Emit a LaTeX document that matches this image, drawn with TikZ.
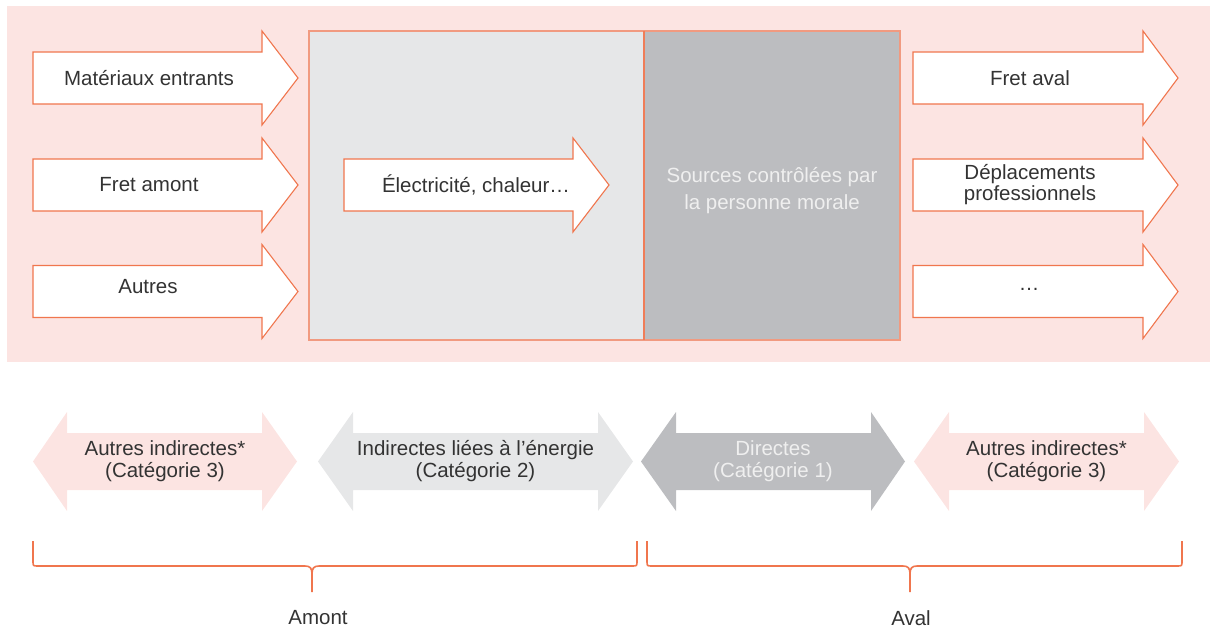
\documentclass[tikz,border=0pt]{standalone}
\usepackage{fontspec}
\setmainfont{Liberation Sans}
\definecolor{bgpink}{HTML}{FCE4E2}
\definecolor{lgrey}{HTML}{E6E7E8}
\definecolor{dgrey}{HTML}{BCBDC0}
\definecolor{orng}{HTML}{F0764E}
\definecolor{boxline}{HTML}{F19A80}
\definecolor{txt}{HTML}{333333}
\definecolor{wtxt}{HTML}{EFEFEF}
\newcommand{\rarr}[4]{%
  \draw[arrowbox] (#1,{#4-26}) -- (#2,{#4-26}) -- (#2,{#4-47}) -- (#3,#4) -- (#2,{#4+47}) -- (#2,{#4+26}) -- (#1,{#4+26}) -- cycle;}
\newcommand{\darr}[6]{%
  \fill[#6] (#1,#5) -- (#2,{#5-49.5}) -- (#2,{#5-28.5}) -- (#3,{#5-28.5}) -- (#3,{#5-49.5}) -- (#4,#5) -- (#3,{#5+49.5}) -- (#3,{#5+28.5}) -- (#2,{#5+28.5}) -- (#2,{#5+49.5}) -- cycle;}
\begin{document}
\begin{tikzpicture}[x=1pt,y=-1pt,
  arrowbox/.style={draw=orng, line width=1.1pt, fill=white, line join=miter},
  lbl/.style={text=txt, align=center, font=\fontsize{20.5}{22}\selectfont, inner sep=0pt},
  brace/.style={draw=orng, line width=1.6pt}]
\useasboundingbox (0,0) rectangle (1210,628);
\fill[bgpink] (7,6) rectangle (1210,362);
\draw[draw=boxline, line width=1.3pt, fill=lgrey] (309,31) rectangle (644,340);
\draw[draw=boxline, line width=1.3pt, fill=dgrey] (644,31) rectangle (900,340);
\draw[draw=orng!80!boxline, line width=1.5pt] (644,31) -- (644,340);
% single arrows
\rarr{33}{262}{298}{78}
\rarr{33}{262}{298}{185}
\rarr{33}{262}{298}{291.5}
\rarr{344}{573}{609}{185}
\rarr{913}{1143}{1178}{78}
\rarr{913}{1143}{1178}{185}
\rarr{913}{1143}{1178}{291.5}
\node[lbl] (mat) at (149,78) {Matériaux entrants};
\node[lbl] (fam) at (149,185) {Fret amont};
\node[lbl] (aut) at (148,287) {Autres};
\node[lbl] (elec) at (476,185) {Électricité, chaleur…};
\node[lbl, text=wtxt, font=\fontsize{20.5}{27}\selectfont] (src) at (772,191) {Sources contrôlées par\\la personne morale};
\node[lbl, font=\fontsize{20.5}{21}\selectfont] (fav) at (1030,78) {Fret aval};
\node[lbl, font=\fontsize{20.5}{21}\selectfont] (dep) at (1030,185) {Déplacements\\professionnels};
\node[lbl] (etc) at (1029,289) {…};
% double arrows
\darr{33}{67}{262}{297}{461.5}{bgpink}
\darr{318}{353}{598}{633}{461.5}{lgrey}
\darr{641}{676}{871}{905}{461.5}{dgrey}
\darr{914}{949}{1144}{1179}{461.5}{bgpink}
\node[lbl] (c3a) at (165,461) {Autres indirectes*\\(Catégorie 3)};
\node[lbl] (c2) at (475.5,461) {Indirectes liées à l’énergie\\(Catégorie 2)};
\node[lbl, text=wtxt] (c1) at (773,461) {Directes\\(Catégorie 1)};
\node[lbl] (c3b) at (1046.5,461) {Autres indirectes*\\(Catégorie 3)};
% braces
\coordinate (bl) at (312,592);
\coordinate (br) at (910,592);
\draw[brace] (33,541) -- (33,561) .. controls (33,566) .. (38,566) -- (305,566) .. controls (310,566) and (312,568) .. (312,574) -- (bl);
\draw[brace] (312,574) .. controls (312,568) and (314,566) .. (319,566) -- (632,566) .. controls (637,566) .. (637,561) -- (637,541);
\draw[brace] (647,541) -- (647,561) .. controls (647,566) .. (652,566) -- (903,566) .. controls (908,566) and (910,568) .. (910,574) -- (br);
\draw[brace] (910,574) .. controls (910,568) and (912,566) .. (917,566) -- (1177,566) .. controls (1182,566) .. (1182,561) -- (1182,541);
\node[lbl] (amont) at (318,618) {Amont};
\node[lbl] (aval) at (911,618) {Aval};
\end{tikzpicture}
\end{document}
